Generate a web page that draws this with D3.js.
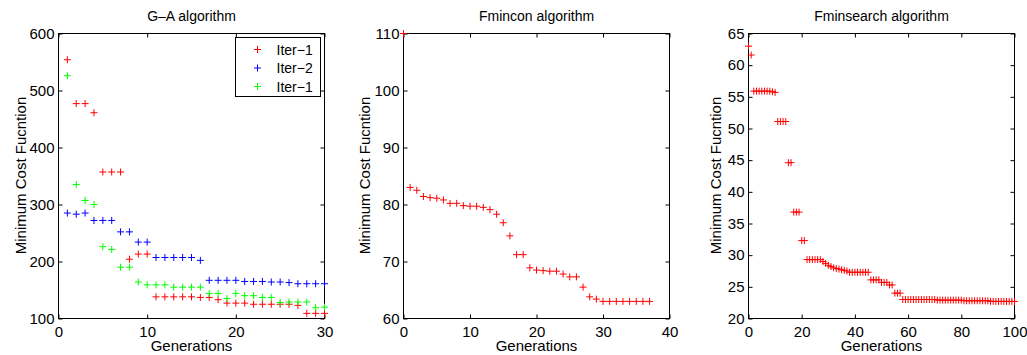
<!DOCTYPE html>
<html>
<head>
<meta charset="utf-8">
<script src="https://cdnjs.cloudflare.com/ajax/libs/d3/7.8.5/d3.min.js"></script>
<style>
body { margin: 0; background: #fff; }
text { font-family: "Liberation Sans", Arial, Helvetica, sans-serif; fill: #000; }
</style>
</head>
<body>
<div id="chart"></div>
<script>
// G-A algorithm: three runs, generations 1..30
var gaGens = [1,2,3,4,5,6,7,8,9,10,11,12,13,14,15,16,17,18,19,20,21,22,23,24,25,26,27,28,29,30];
var gaIterRed = [554,477,477,461,357,357,357,204,213,213,138,138,138,138,138,137,137,133,127,127,127,125,125,125,125,125,123,109,109,109];
var gaIterBlue = [285,283,285,272,272,272,252,252,234,234,207,207,207,207,207,202,167,167,167,167,165,165,165,164,164,163,161,161,161,161];
var gaIterGreen = [526,335,307,300,226,221,190,190,164,159,159,159,155,155,155,155,144,144,135,144,140,140,137,137,128,129,129,129,119,120];
var gaLegend = ['Iter\u22121', 'Iter\u22122', 'Iter\u22121'];

// Fmincon algorithm
var fcGens = [0,1,2,3,4,5,6,7,8,9,10,11,12,13,14,15,16,17,18,19,20,21,22,23,24,25,26,27,28,29,30,31,32,33,34,35,36,37];
var fcCost = [110,83.0,82.5,81.4,81.2,81.1,80.8,80.2,80.2,79.8,79.7,79.7,79.5,79.1,78.3,76.8,74.5,71.2,71.2,68.9,
  68.5,68.4,68.3,68.3,67.8,67.3,67.3,65.5,63.8,63.4,63.0,63.0,63.0,63.0,63.0,63.0,63.0,63.0];

// Fminsearch algorithm
var fsGens = [0,1,2,3,4,5,6,7,8,9,10,11,12,13,14,15,16,17,18,19,20,21,22,23,24,25,26,27,28,29,30,31,32,33,34,35,36,37,38,39,
  40,41,42,43,44,45,46,47,48,49,50,51,52,53,54,55,56,57,58,59,60,61,62,63,64,65,66,67,68,69,70,71,72,73,74,75,76,77,78,79,
  80,81,82,83,84,85,86,87,88,89,90,91,92,93,94,95,96,97,98,99,100];
var fsCost = [63.0,61.6,55.9,55.9,55.9,55.9,55.9,55.9,55.9,55.8,55.7,51.1,51.1,51.1,51.1,44.6,44.6,36.8,36.8,36.8,
  32.3,32.3,29.3,29.3,29.3,29.3,29.3,29.3,29.0,28.7,28.4,28.2,28.0,27.9,27.8,27.7,27.6,27.5,27.3,27.3,
  27.3,27.3,27.3,27.3,27.3,27.3,26.1,26.1,26.1,26.1,25.7,25.7,25.7,25.3,25.3,24.0,24.0,24.0,23.0,23.0,
  23.0,23.0,23.0,23.0,23.0,23.0,23.0,23.0,23.0,23.0,23.0,22.9,22.9,22.9,22.9,22.9,22.9,22.9,22.9,22.9,
  22.9,22.8,22.8,22.8,22.8,22.8,22.8,22.8,22.8,22.8,22.8,22.7,22.7,22.7,22.7,22.7,22.7,22.7,22.7,22.7,22.7];

var width = 1027, height = 355,
    plotTop = 33, plotBottom = 318, pw = 266;

var svg = d3.select('#chart').append('svg')
  .attr('width', width)
  .attr('height', height)
  .style('display', 'block');

svg.append('rect').attr('width', width).attr('height', height).attr('fill', '#fff');

var plus = 'M-3.5,0H3.5M0,-3.5V3.5';

var panels = [
  { left: 58.5, title: 'G\u2013A algorithm', xDomain: [0, 30], xTicks: [0,10,20,30],
    yDomain: [100, 600], yTicks: [100,200,300,400,500,600], labelOff: 33,
    series: [ {x: gaGens, y: gaIterRed, color: '#ff0000'},
              {x: gaGens, y: gaIterBlue, color: '#0000ff'},
              {x: gaGens, y: gaIterGreen, color: '#00ff00'} ] },
  { left: 403.5, title: 'Fmincon algorithm', xDomain: [0, 40], xTicks: [0,10,20,30,40],
    yDomain: [60, 110], yTicks: [60,70,80,90,100,110], labelOff: 34,
    series: [ {x: fcGens, y: fcCost, color: '#ff0000'} ] },
  { left: 748.5, title: 'Fminsearch algorithm', xDomain: [0, 100], xTicks: [0,20,40,60,80,100],
    yDomain: [20, 65], yTicks: [20,25,30,35,40,45,50,55,60,65], labelOff: 28,
    series: [ {x: fsGens, y: fsCost, color: '#ff0000'} ] }
];

panels.forEach(function(p, pi) {
  var g = svg.append('g');
  var x = d3.scaleLinear().domain(p.xDomain).range([p.left, p.left + pw]);
  var y = d3.scaleLinear().domain(p.yDomain).range([plotBottom + 0.5, plotTop + 0.5]);

  function style(sel) {
    sel.attr('font-size', 15).attr('font-family', null);
    sel.select('.domain').remove();
    sel.selectAll('line').attr('stroke', '#000');
  }

  g.append('g').attr('transform', 'translate(0,' + (plotBottom + 0.5) + ')')
    .call(d3.axisBottom(x).tickValues(p.xTicks).tickSizeInner(-4).tickSizeOuter(0).tickPadding(8))
    .call(style);
  g.append('g').attr('transform', 'translate(0,' + (plotTop + 0.5) + ')')
    .call(d3.axisTop(x).tickValues(p.xTicks).tickSizeInner(-4).tickSizeOuter(0).tickFormat(''))
    .call(style);
  g.append('g').attr('transform', 'translate(' + p.left + ',0)')
    .call(d3.axisLeft(y).tickValues(p.yTicks).tickSizeInner(-4).tickSizeOuter(0).tickPadding(4))
    .call(style);
  g.append('g').attr('transform', 'translate(' + (p.left + pw) + ',0)')
    .call(d3.axisRight(y).tickValues(p.yTicks).tickSizeInner(-4).tickSizeOuter(0).tickFormat(''))
    .call(style);

  g.append('rect')
    .attr('x', p.left).attr('y', plotTop + 0.5)
    .attr('width', pw).attr('height', plotBottom - plotTop)
    .attr('fill', 'none').attr('stroke', '#000').attr('stroke-width', 1);

  p.series.forEach(function(s) {
    g.append('g').selectAll('path')
      .data(d3.zip(s.x, s.y))
      .join('path')
      .attr('d', plus)
      .attr('transform', function(d) { return 'translate(' + x(d[0]) + ',' + y(d[1]) + ')'; })
      .attr('stroke', s.color)
      .attr('stroke-width', 1)
      .attr('fill', 'none');
  });

  g.append('text')
    .attr('x', p.left + pw / 2).attr('y', 21)
    .attr('text-anchor', 'middle').attr('font-size', 14)
    .text(p.title);

  g.append('text')
    .attr('x', p.left + pw / 2).attr('y', 351)
    .attr('text-anchor', 'middle').attr('font-size', 15)
    .text('Generations');

  g.append('text')
    .attr('transform', 'translate(' + (p.left - p.labelOff) + ',' + ((plotTop + plotBottom) / 2) + ') rotate(-90)')
    .attr('text-anchor', 'middle').attr('font-size', 15)
    .text('Minimum Cost Fucntion');

  if (pi === 0) {
    var lg = g.append('g').attr('transform', 'translate(235.5,37.5)');
    lg.append('rect').attr('width', 85).attr('height', 59)
      .attr('fill', '#fff').attr('stroke', '#000');
    p.series.forEach(function(s, i) {
      var ry = 12 + i * 18.5;
      lg.append('path').attr('d', plus)
        .attr('transform', 'translate(22,' + ry + ')')
        .attr('stroke', s.color).attr('fill', 'none');
      lg.append('text').attr('x', 41).attr('y', ry + 5)
        .attr('font-size', 14).text(gaLegend[i]);
    });
  }
});
</script>
</body>
</html>
